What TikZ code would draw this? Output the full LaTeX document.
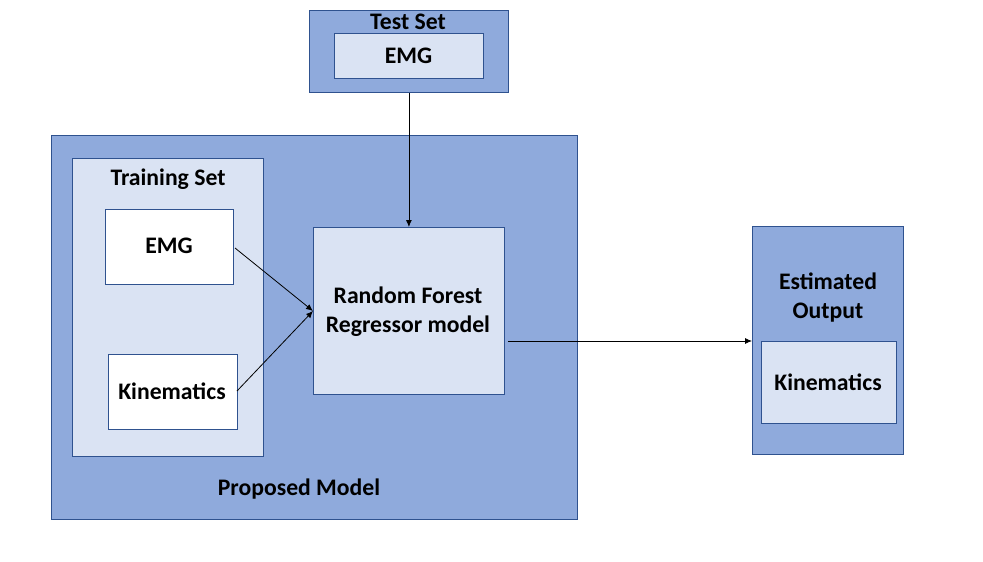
\documentclass[tikz,border=0pt]{standalone}
\usepackage{fontspec}
\setmainfont{Carlito}
\usetikzlibrary{arrows.meta}
\definecolor{outerblue}{HTML}{8FAADC}
\definecolor{innerblue}{HTML}{DAE3F3}
\definecolor{edgeblue}{HTML}{2F528F}
\tikzset{
  frame/.style={draw=edgeblue, line width=0.8pt, anchor=north west, inner sep=0pt},
  outerbox/.style={frame, fill=outerblue},
  innerbox/.style={frame, fill=innerblue},
  whitebox/.style={frame, fill=white},
  lbl/.style={font=\bfseries\fontsize{23.7}{29}\selectfont, align=center, inner sep=0pt, text=black},
  conn/.style={draw=black, line width=0.8pt, -{Latex[length=7pt,width=6pt]}}
}
\begin{document}
\begin{tikzpicture}[x=1pt,y=-1pt]
\useasboundingbox (0,0) rectangle (983,562);
% Test set
\node[outerbox, minimum width=199, minimum height=82] (testouter) at (309,10) {};
\node[innerbox, minimum width=149, minimum height=45] (testemg) at (334,33) {};
\node[lbl] (testlbl) at (408,22) {Test Set};
\node[lbl] (testemglbl) at (408.5,56) {EMG};
% Proposed model
\node[outerbox, minimum width=526, minimum height=384] (proposed) at (51,135) {};
\node[lbl] (proplbl) at (299,489) {Proposed Model};
\node[innerbox, minimum width=191, minimum height=298] (training) at (72,158) {};
\node[lbl] (trainlbl) at (168,179) {Training Set};
\node[whitebox, minimum width=128, minimum height=75] (emg) at (105,209) {};
\node[lbl] (emglbl) at (169,246) {EMG};
\node[whitebox, minimum width=129, minimum height=75] (kin) at (108,354) {};
\node[lbl] (kinlbl) at (172,391) {Kinematics};
\node[innerbox, minimum width=191, minimum height=167] (rf) at (313,227) {};
\node[lbl] (rflbl) at (408,312) {Random Forest\\Regressor model};
% Estimated output
\node[outerbox, minimum width=151, minimum height=228] (est) at (752,226) {};
\node[lbl] (estlbl) at (828,298) {Estimated\\Output};
\node[innerbox, minimum width=135, minimum height=82] (estkin) at (761,341) {};
\node[lbl] (estkinlbl) at (828,382) {Kinematics};
% connectors
\coordinate (emgout) at (235,248);
\coordinate (kinout) at (237,391);
\coordinate (rfin) at (313,311);
\coordinate (rfout) at (508,341);
\draw[conn] (testouter.south) -- (rf.north);
\draw[conn] (emgout) -- (rfin);
\draw[conn] (kinout) -- (rfin);
\draw[conn] (rfout) -- (rfout -| est.west);
\end{tikzpicture}
\end{document}
